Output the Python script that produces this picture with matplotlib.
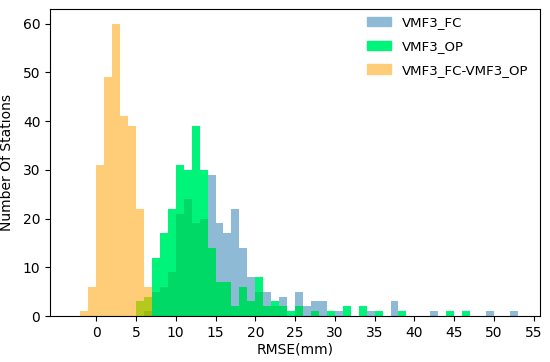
import numpy as np
import matplotlib
matplotlib.use('Agg')
import matplotlib.pyplot as plt
from matplotlib.patches import Patch

# bin edges, 1 mm wide
edges = np.arange(-2, 54)

# counts per bin, bins starting at -2, -1, 0, ... 53
diff = [1, 6, 31, 49, 60, 41, 39, 22, 6]          # bins -2 .. 6
fc = [0]*8 + [1, 5, 6, 9, 21, 24, 19, 20,          # bins -2 .. 13
      29, 19, 17, 22, 14, 8, 5, 5, 2, 4,          # 14 .. 23
      0, 5, 2, 3, 3, 0, 1, 0, 0, 0,               # 24 .. 33
      1, 0, 0, 3, 0, 0, 0, 0, 1, 0,               # 34 .. 43
      0, 0, 0, 0, 0, 1, 0, 0, 1]                  # 44 .. 52
op = [0]*7 + [3, 4, 12, 17, 22, 31, 30, 39, 30,    # bins -2 .. 13
      14, 7, 7, 2, 6, 3, 8, 2, 3, 2,              # 14 .. 23
      1, 2, 0, 1, 0, 1, 0, 2, 0, 2,               # 24 .. 33
      0, 1, 0, 0, 1, 0, 0, 0, 0, 0,               # 34 .. 43
      1, 0, 1, 0, 0, 0, 0, 0, 0]                  # 44 .. 52

n = len(edges) - 1
fc = np.array(fc + [0]*(n - len(fc)))
op = np.array(op + [0]*(n - len(op)))
diff = np.array(diff + [0]*(n - len(diff)))
left = edges[:-1]

c_fc = '#8fbad6'
c_op = '#00f47a'
c_both = '#00d966'
c_diff = '#ffcc78'
c_olive = '#b4c81e'
c_olive2 = '#9cba14'

fig, ax = plt.subplots(figsize=(5.5, 3.62), dpi=100)
plt.subplots_adjust(left=0.091, right=0.982, top=0.975, bottom=0.127)

ax.bar(left, fc, width=1, align='edge', color=c_fc, linewidth=0)
ax.bar(left, op, width=1, align='edge', color=c_op, linewidth=0)
ax.bar(left, np.minimum(fc, op), width=1, align='edge', color=c_both, linewidth=0)
ax.bar(left, diff, width=1, align='edge', color=c_diff, linewidth=0)
ax.bar(left, np.minimum(diff, op), width=1, align='edge', color=c_olive, linewidth=0)
ax.bar(left, np.minimum(np.minimum(diff, op), fc), width=1, align='edge',
       color=c_olive2, linewidth=0)

ax.set_xlim(-5.8, 55.8)
ax.set_ylim(0, 63)
ax.set_xticks(np.arange(0, 56, 5))
ax.set_yticks(np.arange(0, 61, 10))
ax.tick_params(labelsize=10)
ax.set_xlabel('RMSE(mm)', fontsize=10, labelpad=2)
ax.set_ylabel('Number Of Stations', fontsize=10, labelpad=6)

handles = [Patch(color=c_fc, label='VMF3_FC'),
           Patch(color=c_op, label='VMF3_OP'),
           Patch(color=c_diff, label='VMF3_FC-VMF3_OP')]
ax.legend(handles=handles, loc='upper right', frameon=False, fontsize=9.6,
          labelspacing=0.8, handlelength=1.8, bbox_to_anchor=(1.0, 1.015))

plt.savefig('out.png', dpi=100)
